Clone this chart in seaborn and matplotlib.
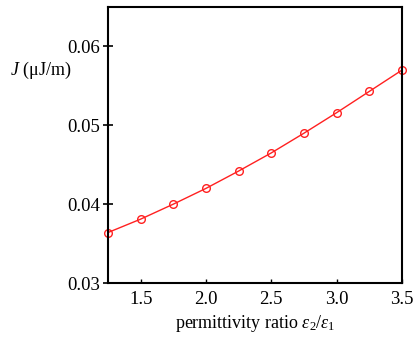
import matplotlib
matplotlib.use("Agg")
import matplotlib.pyplot as plt
import seaborn as sns
import pandas as pd

ratio = [1.25, 1.5, 1.75, 2.0, 2.25, 2.5, 2.75, 3.0, 3.25, 3.5]
J_vals = [0.0364, 0.0381, 0.0400, 0.0420, 0.0442, 0.0465, 0.0490, 0.0516, 0.0543, 0.0570]
xticks = [1.5, 2.0, 2.5, 3.0, 3.5]
yticks = [0.03, 0.04, 0.05, 0.06]

sns.set_style("ticks")
plt.rcParams['font.family'] = ['Liberation Serif', 'DejaVu Serif']
plt.rcParams['mathtext.fontset'] = 'custom'
plt.rcParams['mathtext.rm'] = 'Liberation Serif'
plt.rcParams['mathtext.it'] = 'Liberation Serif:italic'
plt.rcParams['text.color'] = 'black'
plt.rcParams['xtick.color'] = 'black'
plt.rcParams['ytick.color'] = 'black'
plt.rcParams['xtick.labelcolor'] = 'black'
plt.rcParams['ytick.labelcolor'] = 'black'

df = pd.DataFrame({"ratio": ratio, "J": J_vals})

fig = plt.figure(figsize=(4.14, 3.37), dpi=100)
ax = fig.add_axes([108/414, 1 - 283/337, (402-108)/414, (283-7)/337])
sns.lineplot(data=df, x="ratio", y="J", ax=ax, color="#ff2020", linewidth=1.0,
             marker="o", markersize=5.5, markerfacecolor="none",
             markeredgecolor="#ff2020", markeredgewidth=1.0, clip_on=False)
ax.set_xlim(1.25, 3.5)
ax.set_ylim(0.03, 0.065)
ax.set_xticks(xticks)
ax.set_xticklabels(["1.5", "2.0", "2.5", "3.0", "3.5"])
ax.set_yticks(yticks)
ax.set_yticklabels(["0.03", "0.04", "0.05", "0.06"])
for s in ax.spines.values():
    s.set_linewidth(1.5)
    s.set_color("black")
ax.tick_params(axis="y", direction="inout", length=7, width=1.2, labelsize=13.5, pad=2, colors="black")
ax.tick_params(axis="x", direction="in", length=3, width=1.0, labelsize=13.5, pad=6, colors="black")
ax.set_xlabel("")
ax.set_ylabel("")
fig.text(255/414, 1 - 323/337, r"permittivity ratio $\mathit{\varepsilon}_2/\mathit{\varepsilon}_1$",
         ha="center", va="center", fontsize=13, color="black")
fig.text(10/414, 1 - 70/337, r"$\mathit{J}$ (μJ/m)", ha="left", va="center", fontsize=13, color="black")
fig.savefig("out.png", dpi=100)
